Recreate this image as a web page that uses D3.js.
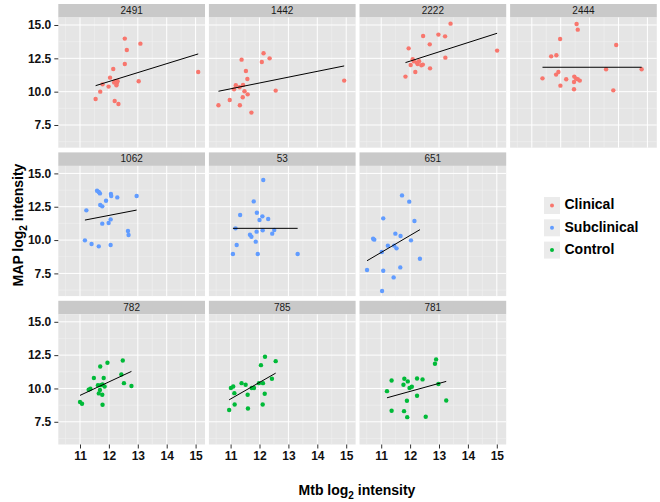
<!DOCTYPE html>
<html><head><meta charset="utf-8">
<script src="https://cdn.jsdelivr.net/npm/d3@7"></script>
<style>body{margin:0;background:#fff}svg{display:block}text{font-family:"Liberation Sans",Arial,Helvetica,sans-serif}</style>
</head><body><svg id="c" width="660" height="502"></svg>
<script>
const panelIds = ["2491","1442","2222","2444","1062","53","651","782","785","781"];
const panelGroup = ["Clinical","Clinical","Clinical","Clinical","Subclinical","Subclinical","Subclinical","Control","Control","Control"];
const groupNames = ["Clinical","Subclinical","Control"];
const groupColors = ["#F8766D","#619CFF","#00BA38"];
const xTicks = [11,12,13,14,15];
const yTicks = [7.5,10,12.5,15];
const yTickLabels = ["7.5","10.0","12.5","15.0"];

const mtb2491 = [11.54,11.70,11.78,11.99,12.04,12.15,12.20,12.33,12.22,12.27,12.30,12.18,12.26,12.55,12.62,12.55,13.09,13.03,15.09];
const map2491 = [9.45,10.0,10.55,10.38,11.05,11.7,9.3,9.08,10.8,10.63,10.78,10.68,10.48,13.98,13.13,12.08,13.6,10.78,11.48];
const mtb1442 = [10.58,10.97,11.32,11.12,11.18,11.31,11.43,11.42,11.48,11.59,11.58,11.53,11.38,11.72,12.08,12.14,12.35,12.56,14.93];
const map1442 = [8.98,9.38,8.98,10.18,10.48,10.33,10.5,9.58,10.03,9.8,10.95,11.55,12.4,8.43,12.23,12.88,12.5,10.08,10.83];
const mtb2222 = [11.84,11.95,12.02,12.09,12.13,12.18,12.26,12.31,12.39,12.44,12.45,12.68,12.69,12.98,13.21,13.22,13.40,15.01,12.23];
const map2222 = [11.13,13.25,12.0,12.43,12.28,11.48,12.08,12.28,11.98,12.03,14.18,13.55,11.75,14.28,14.15,12.55,15.1,13.08,12.18];
const mtb2444 = [11.37,11.67,11.85,11.84,11.92,11.98,11.99,12.19,12.46,12.47,12.46,12.55,12.59,12.53,12.59,12.66,13.57,13.82,13.92,14.80];
const map2444 = [11.0,12.65,12.73,11.28,11.48,13.95,10.45,10.93,10.18,11.13,10.73,15.08,14.65,10.98,10.93,10.83,11.68,10.1,13.5,11.68];
const mtb1062 = [11.17,11.22,11.40,11.59,11.65,11.65,11.69,11.70,11.77,11.77,11.90,11.99,12.06,12.06,12.07,12.08,12.29,12.66,12.68,12.96];
const map1062 = [9.98,12.23,9.7,13.7,9.53,13.6,13.5,12.63,12.53,11.23,12.95,11.28,9.63,11.55,13.45,13.3,13.2,10.68,10.38,13.3];
const mtb53 = [11.08,11.21,11.17,11.33,11.67,11.72,11.80,11.87,11.90,11.91,11.94,12.00,12.10,12.11,12.13,12.30,12.44,12.51,13.32];
const map53 = [8.95,9.63,10.88,11.88,10.4,10.25,12.9,9.88,10.63,12.05,8.95,11.5,11.78,10.73,14.5,11.58,10.48,10.75,8.95];
const mtb651 = [10.51,10.72,10.76,11.02,11.03,11.07,11.07,11.23,11.43,11.45,11.49,11.53,11.66,11.67,11.72,11.97,12.03,12.15,12.34];
const map651 = [7.75,10.1,10.03,9.1,6.18,11.63,7.7,9.58,7.2,9.58,10.48,9.38,7.95,10.3,13.35,12.88,9.98,11.43,8.6];
const mtb782 = [11.0,11.07,11.30,11.36,11.48,11.62,11.65,11.69,11.70,11.72,11.77,11.78,11.82,11.85,11.78,11.95,12.43,12.48,12.52,12.78];
const map782 = [8.98,8.85,9.9,9.98,10.78,10.25,9.63,9.88,11.65,10.25,9.53,8.78,10.78,10.15,10.3,11.93,11.05,12.1,10.4,10.18];
const mtb785 = [10.95,11.01,11.09,11.13,11.14,11.38,11.52,11.59,11.60,11.73,11.81,11.98,12.05,12.12,12.18,12.11,12.19,12.43,12.56];
const map785 = [8.38,10.03,10.15,9.65,8.8,10.4,10.28,9.53,8.5,10.03,10.03,10.4,11.75,10.4,9.6,8.8,12.38,10.73,12.05];
const mtb781 = [11.20,11.36,11.36,11.77,11.80,11.79,11.89,11.90,11.92,11.98,12.06,12.24,12.24,12.43,12.54,12.86,12.90,12.98,13.25];
const map781 = [9.8,10.6,8.33,10.28,10.73,8.3,9.08,7.85,10.53,10.03,10.13,10.75,9.45,10.68,7.88,11.85,12.18,10.33,9.1];

// fitted line values at the panel's smallest and largest Mtb value
const fitLeft  = [10.45,10.03,12.18,11.83,11.5,10.88,8.45,9.48,9.15,9.3];
const fitRight = [12.83,11.93,14.38,11.83,12.25,10.88,10.78,11.28,11.15,10.53];

const mtbSets = [mtb2491,mtb1442,mtb2222,mtb2444,mtb1062,mtb53,mtb651,mtb782,mtb785,mtb781];
const mapSets = [map2491,map1442,map2222,map2444,map1062,map53,map651,map782,map785,map781];

const svg = d3.select("#c");
const panelW = 146.7, stripH = 13.5, plotH = 130.2;
const colX = d3.scaleLinear().domain([0,1]).range([58.3, 208.9]);
const rowY = d3.scaleLinear().domain([0,1]).range([4, 152.4]);
const x = d3.scaleLinear().domain([10.249, 15.325]).range([0, panelW]);
const y = d3.scaleLinear().domain([5.797, 15.5625]).range([plotH, 0]);
const color = d3.scaleOrdinal().domain(groupNames).range(groupColors);

const xMinor = d3.range(10.5, 15.5, 1);
const yMinor = [6.25, 8.75, 11.25, 13.75];

panelIds.forEach((id, i) => {
  const row = i < 4 ? 0 : (i < 7 ? 1 : 2);
  const col = i < 4 ? i : (i - 4) % 3;
  const g = svg.append("g").attr("transform", `translate(${colX(col)},${rowY(row)})`);
  // strip
  g.append("rect").attr("width", panelW).attr("height", stripH).attr("fill", "#c9c9c9");
  g.append("text").attr("x", panelW/2).attr("y", stripH/2 + 0.5).attr("text-anchor","middle")
    .attr("dominant-baseline","middle").attr("font-size", 10).attr("fill","#1a1a1a").text(id);
  const p = g.append("g").attr("transform", `translate(0,${stripH})`);
  p.append("rect").attr("width", panelW).attr("height", plotH).attr("fill", "#e5e5e5");
  p.selectAll(".xm").data(xMinor).join("line").attr("x1", d=>x(d)).attr("x2", d=>x(d))
    .attr("y1",0).attr("y2",plotH).attr("stroke","#f2f2f2").attr("stroke-width",0.5);
  p.selectAll(".ym").data(yMinor).join("line").attr("y1", d=>y(d)).attr("y2", d=>y(d))
    .attr("x1",0).attr("x2",panelW).attr("stroke","#f2f2f2").attr("stroke-width",0.5);
  p.selectAll(".xM").data(xTicks).join("line").attr("x1", d=>x(d)).attr("x2", d=>x(d))
    .attr("y1",0).attr("y2",plotH).attr("stroke","#ffffff").attr("stroke-width",1);
  p.selectAll(".yM").data(yTicks).join("line").attr("y1", d=>y(d)).attr("y2", d=>y(d))
    .attr("x1",0).attr("x2",panelW).attr("stroke","#ffffff").attr("stroke-width",1);
  const xs = mtbSets[i], ys = mapSets[i];
  const pts = xs.map((v, k) => ({x: v, y: ys[k]}));
  p.selectAll("circle").data(pts).join("circle").attr("cx", d=>x(d.x)).attr("cy", d=>y(d.y))
    .attr("r", 2.2).attr("fill", color(panelGroup[i]));
  const ext = d3.extent(xs);
  p.append("line").attr("x1", x(ext[0])).attr("x2", x(ext[1]))
    .attr("y1", y(fitLeft[i])).attr("y2", y(fitRight[i])).attr("stroke","#000").attr("stroke-width",1);
  if (col === 0) {
    const ay = p.append("g").call(d3.axisLeft(y).tickValues(yTicks).tickSize(4).tickPadding(3).tickFormat((d,k)=>yTickLabels[k]));
    ay.select(".domain").remove();
    ay.selectAll("line").attr("stroke","#333");
    ay.selectAll("text").attr("font-size",12).attr("font-weight","bold").attr("fill","#111").attr("font-family",null);
  }
  if (row === 2) {
    const ax = p.append("g").attr("transform",`translate(0,${plotH})`).call(d3.axisBottom(x).tickValues(xTicks).tickSize(4).tickPadding(3).tickFormat(d3.format("d")));
    ax.select(".domain").remove();
    ax.selectAll("line").attr("stroke","#333");
    ax.selectAll("text").attr("font-size",12).attr("font-weight","bold").attr("fill","#111").attr("font-family",null);
  }
});

// axis titles
const xt = svg.append("text").attr("x", 357).attr("y", 495).attr("text-anchor","middle")
  .attr("font-size",14).attr("font-weight","bold").attr("fill","#000");
xt.append("tspan").text("Mtb log");
xt.append("tspan").attr("dy",4).attr("font-size",10).text("2");
xt.append("tspan").attr("dy",-4).text(" intensity");

const yt = svg.append("text").attr("transform","translate(23,225) rotate(-90)").attr("text-anchor","middle")
  .attr("font-size",14).attr("font-weight","bold").attr("fill","#000");
yt.append("tspan").text("MAP log");
yt.append("tspan").attr("dy",4).attr("font-size",10).text("2");
yt.append("tspan").attr("dy",-4).text(" intensity");

// legend
const lg = svg.append("g").attr("transform","translate(544,197)");
groupNames.forEach((name, k) => {
  const r = lg.append("g").attr("transform",`translate(0,${k*22.3})`);
  r.append("rect").attr("width",16).attr("height",17).attr("fill","#ebebeb");
  r.append("circle").attr("cx",8).attr("cy",8.5).attr("r",2).attr("fill",color(name));
  r.append("text").attr("x",20.5).attr("y",8.5).attr("dominant-baseline","middle")
    .attr("font-size",14).attr("font-weight","bold").attr("fill","#000").text(name);
});
</script></body></html>
